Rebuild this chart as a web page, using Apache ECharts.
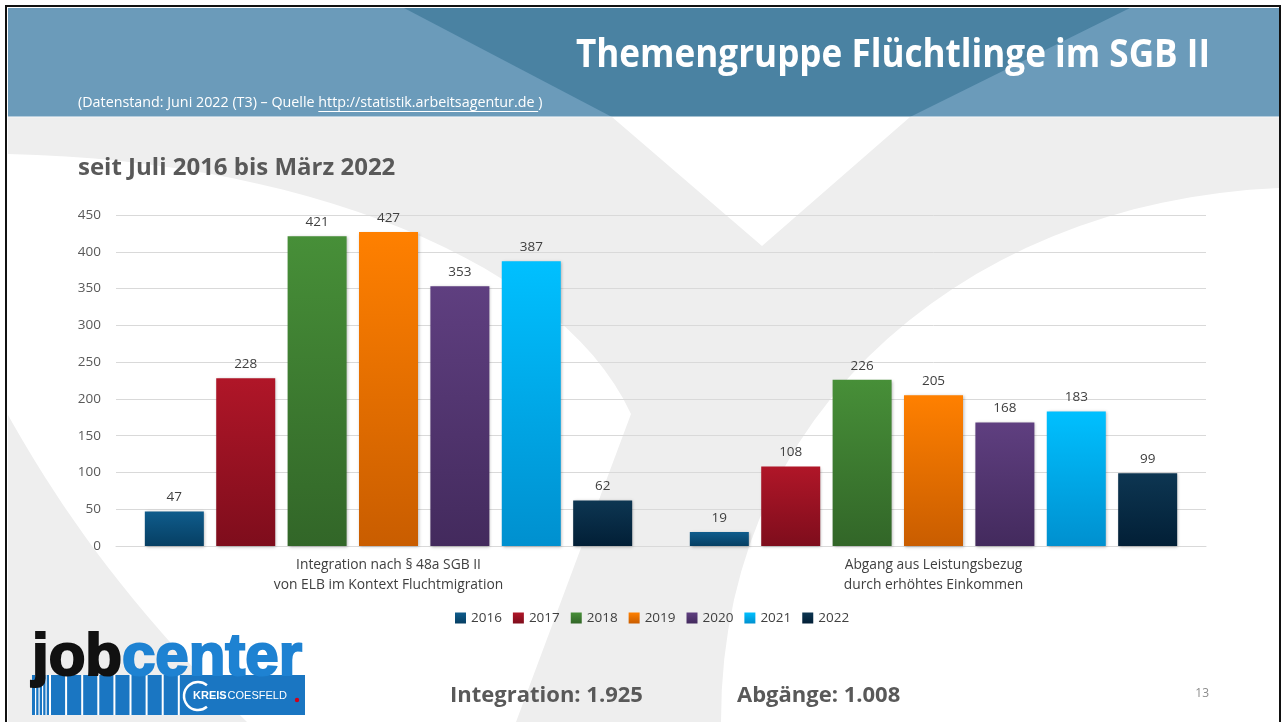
<!DOCTYPE html>
<html>
<head>
<meta charset="utf-8">
<script src="https://cdn.jsdelivr.net/npm/echarts@6/dist/echarts.min.js"></script>
<style>
html, body { margin: 0; padding: 0; background: #fff; }
#main { width: 1284px; height: 722px; }
</style>
</head>
<body>
<div id="main"></div>
<script>
// data
var categories = [
	'Integration nach § 48a SGB II\nvon ELB im Kontext Fluchtmigration',
	'Abgang aus Leistungsbezug\ndurch erhöhtes Einkommen'
];
var years = ['2016', '2017', '2018', '2019', '2020', '2021', '2022'];
var integration = [47, 228, 421, 427, 353, 387, 62];
var abgaenge = [19, 108, 226, 205, 168, 183, 99];
var yMin = 0, yMax = 450, yStep = 50;

// bar colours, top -> bottom of the gradient
var topColors = ['#0F5C8C', '#B01628', '#478F38', '#FF8000', '#5F3F80', '#00C0FF', '#0D3652'];
var bottomColors = ['#063F63', '#7E0D1C', '#326628', '#C95D00', '#432A5D', '#0090CF', '#021F36'];

var FONT = '"Open Sans", "Noto Sans", sans-serif';

var myChart = echarts.init(document.getElementById('main'));

function bez(p0, p1, p2, p3, n) {
	var pts = [];
	for (var i = 0; i <= n; i++) {
		var t = i / n, u = 1 - t;
		pts.push([
			u*u*u*p0[0] + 3*u*u*t*p1[0] + 3*u*t*t*p2[0] + t*t*t*p3[0],
			u*u*u*p0[1] + 3*u*u*t*p1[1] + 3*u*t*t*p2[1] + t*t*t*p3[1]
		]);
	}
	return pts;
}

var measureCtx = document.createElement('canvas').getContext('2d');
function textWidth(str, font) {
	measureCtx.font = font;
	return measureCtx.measureText(str).width;
}

function fmt(n) {
	return String(n).replace(/\B(?=(\d{3})+(?!\d))/g, '.');
}
function sum(arr) {
	return arr.reduce(function (a, b) { return a + b; }, 0);
}

// background swoosh
var greyShape = [[8, 117], [612, 117], [762, 246], [910, 117], [1279, 117], [1279, 188]]
	.concat(bez([1279, 188], [980, 200], [720, 400], [721, 722], 30))
	.concat([[516, 722], [631, 414]])
	.concat(bez([631, 414], [560, 260], [300, 160], [8, 154], 30));
var greyCorner = [[8, 415]]
	.concat(bez([8, 415], [50, 490], [120, 600], [247, 722], 20))
	.concat([[8, 722]]);

// subtitle pieces
var subPre = '(Datenstand: Juni 2022 (T3) – Quelle ';
var subUrl = 'http://statistik.arbeitsagentur.de ';
var subPost = ')';
var subFont = '14.3px ' + FONT;
var wPre = textWidth(subPre, subFont);
var wUrl = textWidth(subUrl, subFont);

// logo
var logoFont = 'bold 60px "Liberation Sans", Arial, sans-serif';
var wJob = textWidth('job', logoFont);
var kreisFont = 'bold 11px "Liberation Sans", sans-serif';

var logo = [
	{type: 'rect', shape: {x: 32, y: 675, width: 273, height: 40}, style: {fill: '#1A76C2'}}
];
[35, 38.5, 42, 45.5].forEach(function (x) {
	logo.push({type: 'rect', shape: {x: x, y: 675, width: 1.2, height: 40}, style: {fill: '#fff'}});
});
for (var k = 0; k <= 8; k++) {
	logo.push({type: 'rect', shape: {x: 49 + k * 16.1, y: 675, width: 2, height: 40}, style: {fill: '#fff'}});
}
logo.push(
	{type: 'text', x: 32, y: 688, style: {text: 'job', fill: '#111', stroke: '#111', lineWidth: 2.2, font: logoFont, textVerticalAlign: 'bottom'}},
	{type: 'text', x: 32 + wJob, y: 688, style: {text: 'center', fill: '#1E82D2', stroke: '#1E82D2', lineWidth: 2.2, font: logoFont, textVerticalAlign: 'bottom'}},
	{type: 'arc', shape: {cx: 198, cy: 696, r: 14, startAngle: Math.PI * 0.28, endAngle: Math.PI * 1.72}, style: {stroke: '#fff', lineWidth: 2.5, fill: null}},
	{type: 'text', x: 193, y: 696, style: {text: 'KREIS', fill: '#fff', font: kreisFont, textVerticalAlign: 'middle'}},
	{type: 'text', x: 193 + textWidth('KREIS', kreisFont) + 1, y: 696, style: {text: 'COESFELD', fill: '#fff', font: '11px "Liberation Sans", sans-serif', textVerticalAlign: 'middle'}},
	{type: 'circle', shape: {cx: 297, cy: 700, r: 2.2}, style: {fill: '#D0021B'}}
);
logo.forEach(function (el) { el.z = 50; });

var graphics = [
	{type: 'polygon', shape: {points: greyShape}, style: {fill: '#EEEEEE'}, z: -10},
	{type: 'polygon', shape: {points: greyCorner}, style: {fill: '#EEEEEE'}, z: -10},
	{type: 'rect', shape: {x: 8, y: 8, width: 1271, height: 109}, style: {fill: '#6B9BBA'}, z: -5},
	{type: 'polygon', shape: {points: [[404, 8], [612, 117], [910, 117], [1130, 8]]}, style: {fill: '#4A82A2'}, z: -4},
	{type: 'rect', shape: {x: 8, y: 116, width: 1271, height: 1.5}, style: {fill: 'rgba(255,255,255,0.5)'}, z: -3},
	{type: 'line', shape: {x1: 6, y1: 5, x2: 6, y2: 722}, style: {stroke: '#111', lineWidth: 2}, z: 60},
	{type: 'line', shape: {x1: 5, y1: 6, x2: 1281, y2: 6}, style: {stroke: '#111', lineWidth: 2}, z: 60},
	{type: 'line', shape: {x1: 1280, y1: 5, x2: 1280, y2: 722}, style: {stroke: '#111', lineWidth: 2}, z: 60},
	{type: 'text', x: 1210, y: 56, scaleX: 0.9, z: 50, style: {text: 'Themengruppe Flüchtlinge im SGB II', fill: '#fff', font: 'bold 39px ' + FONT, textAlign: 'right', textVerticalAlign: 'middle'}},
	{type: 'text', x: 78, y: 103, z: 50, style: {text: subPre + subUrl + subPost, fill: '#fff', font: subFont, textVerticalAlign: 'middle'}},
	{type: 'rect', z: 50, shape: {x: 78 + wPre, y: 111, width: wUrl, height: 1}, style: {fill: '#fff'}},
	{type: 'text', x: 78, y: 168, z: 50, style: {text: 'seit Juli 2016 bis März 2022', fill: '#595959', font: 'bold 24px ' + FONT, textVerticalAlign: 'middle'}},
	{type: 'text', x: 450, y: 696, z: 50, style: {text: 'Integration: ' + fmt(sum(integration)), fill: '#595959', font: 'bold 22px ' + FONT, textVerticalAlign: 'middle'}},
	{type: 'text', x: 737, y: 696, z: 50, style: {text: 'Abgänge: ' + fmt(sum(abgaenge)), fill: '#595959', font: 'bold 22px ' + FONT, textVerticalAlign: 'middle'}},
	{type: 'text', x: 1209, y: 694, z: 50, style: {text: '13', fill: '#8C8C8C', font: '12px ' + FONT, textAlign: 'right', textVerticalAlign: 'middle'}}
].concat(logo);

var series = years.map(function (name, i) {
	return {
		name: name,
		type: 'bar',
		barWidth: 59,
		barGap: '21%',
		data: [integration[i], abgaenge[i]],
		itemStyle: {
			color: new echarts.graphic.LinearGradient(0, 0, 0, 1, [
				{offset: 0, color: topColors[i]},
				{offset: 1, color: bottomColors[i]}
			]),
			shadowColor: 'rgba(0,0,0,0.28)',
			shadowBlur: 3,
			shadowOffsetX: 1,
			shadowOffsetY: 1
		},
		label: {
			show: true,
			position: 'top',
			distance: 7,
			fontSize: 13.5,
			color: '#404040'
		}
	};
});

var option = {
	animation: false,
	backgroundColor: 'transparent',
	textStyle: {fontFamily: FONT},
	graphic: {elements: graphics},
	grid: {left: 116, right: 78, top: 215, bottom: 176},
	legend: {
		data: years,
		left: 450,
		top: 606,
		icon: 'rect',
		itemWidth: 11,
		itemHeight: 11,
		itemGap: 11,
		textStyle: {fontSize: 13.5, color: '#404040'}
	},
	xAxis: {
		type: 'category',
		data: categories,
		axisTick: {show: false},
		axisLine: {lineStyle: {color: '#D9D9D9'}},
		axisLabel: {
			interval: 0,
			fontSize: 13.8,
			lineHeight: 20,
			margin: 9,
			color: '#404040'
		}
	},
	yAxis: {
		type: 'value',
		min: yMin,
		max: yMax,
		interval: yStep,
		axisLine: {show: false},
		axisTick: {show: false},
		axisLabel: {fontSize: 13.5, color: '#595959', margin: 15},
		splitLine: {lineStyle: {color: '#D9D9D9'}}
	},
	series: series
};

myChart.setOption(option);
</script>
</body>
</html>
